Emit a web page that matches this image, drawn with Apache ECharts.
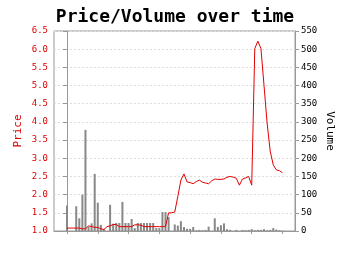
<!DOCTYPE html>
<html><head><meta charset="utf-8">
<script src="https://cdn.jsdelivr.net/npm/echarts@6/dist/echarts.min.js"></script>
<style>html,body{margin:0;padding:0;background:#fff}#c{width:350px;height:255px}</style>
</head><body><div id="c"></div>
<script>
// day index of each observation
const days = [0,1,2,3,4,5,6,7,8,9,10,11,12,13,14,15,16,17,18,19,20,21,22,23,24,25,26,27,28,29,30,31,32,33,34,35,36,37,38,39,40,41,42,43,44,45,46,47,48,49,50,51,52,53,54,55,56,57,58,59,60,61,62,63,64,65,66,67,68,69,70];
const prices = [1.08,1.08,1.08,1.08,1.08,1.06,1.06,1.14,1.12,1.10,1.10,1.06,1.04,1.12,1.14,1.18,1.18,1.12,1.12,1.12,1.12,1.12,1.17,1.17,1.16,1.12,1.12,1.12,1.12,1.12,1.12,1.12,1.12,1.50,1.50,1.52,1.95,2.40,2.57,2.35,2.33,2.30,2.36,2.40,2.34,2.32,2.30,2.38,2.43,2.42,2.42,2.43,2.48,2.50,2.48,2.45,2.26,2.43,2.46,2.50,2.26,6.02,6.22,6.02,5.00,3.97,3.20,2.82,2.68,2.66,2.60];
const volumes = [70,0,0,68,35,100,278,12,21,157,78,17,5,0,72,20,22,22,80,22,22,33,8,22,22,22,22,22,22,8,8,52,52,38,0,18,15,27,11,6,6,11,2,3,2,3,12,0,35,11,16,21,5,3,0,3,0,3,2,3,5,2,3,3,5,2,3,8,4,2,1];
const xTicks = [0,10,20,30,40,50,60,70];
const title = 'Price/Volume over time';

const mono = 'DejaVu Sans Mono';
const chart = echarts.init(document.getElementById('c'), null, {renderer:'canvas'});
chart.setOption({
  animation:false,
  backgroundColor:'#fff',
  title:{text:title,left:'center',top:3,textStyle:{fontFamily:mono,fontWeight:'bold',fontSize:18,color:'#000'}},
  grid:{left:54,right:55,top:31,bottom:24,show:true,borderColor:'#999',borderWidth:1,backgroundColor:'transparent'},
  xAxis:{type:'value',min:-4.22,max:74.06,
    axisLine:{show:true,lineStyle:{color:'#999'}},
    axisTick:{show:true,customValues:xTicks,length:3,lineStyle:{color:'#999'}},
    axisLabel:{show:false},splitLine:{show:false}},
  yAxis:[
    {type:'value',min:1,max:6.5,interval:0.5,position:'left',
     name:'Price',nameLocation:'middle',nameRotate:90,nameGap:30,nameMoveOverlap:false,
     nameTextStyle:{color:'#dd0000',fontFamily:mono,fontSize:11},
     axisLine:{show:true,lineStyle:{color:'#999'}},
     axisTick:{show:true,length:4,lineStyle:{color:'#999'}},
     axisLabel:{color:'#dd0000',fontFamily:mono,fontSize:9,margin:6,formatter:v=>v.toFixed(1)},
     splitLine:{show:true,lineStyle:{color:'#ddd',type:[2,2]}}},
    {type:'value',min:0,max:550,interval:50,position:'right',
     name:'Volume',nameLocation:'middle',nameRotate:-90,nameGap:29,nameMoveOverlap:false,
     nameTextStyle:{color:'#000',fontFamily:mono,fontSize:11},
     axisLine:{show:true,lineStyle:{color:'#999'}},
     axisTick:{show:true,length:4,lineStyle:{color:'#999'}},
     axisLabel:{color:'#000',fontFamily:mono,fontSize:9,margin:6},
     splitLine:{show:false}}
  ],
  series:[
    {type:'bar',yAxisIndex:1,barWidth:2,data:days.map((d,i)=>[d,volumes[i]]),
     itemStyle:{color:'#888'}},
    {type:'line',yAxisIndex:0,data:days.map((d,i)=>[d,prices[i]]),symbol:'none',
     lineStyle:{color:'#e00000',width:1}}
  ]
});
</script></body></html>
